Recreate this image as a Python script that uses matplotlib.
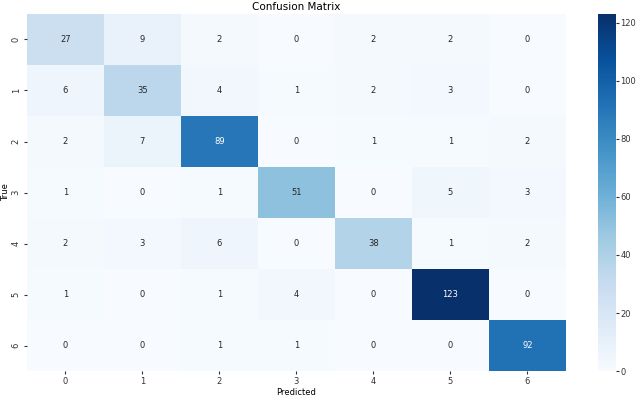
import matplotlib
import matplotlib.pyplot as plt
import numpy as np
import seaborn as sns

matplotlib.use("Agg")

labels = ["0", "1", "2", "3", "4", "5", "6"]
row_0 = [27, 9, 2, 0, 2, 2, 0]
row_1 = [6, 35, 4, 1, 2, 3, 0]
row_2 = [2, 7, 89, 0, 1, 1, 2]
row_3 = [1, 0, 1, 51, 0, 5, 3]
row_4 = [2, 3, 6, 0, 38, 1, 2]
row_5 = [1, 0, 1, 4, 0, 123, 0]
row_6 = [0, 0, 1, 1, 0, 0, 92]

cm = np.array([row_0, row_1, row_2, row_3, row_4, row_5, row_6])

fig = plt.figure(figsize=(6.4, 3.97), dpi=100)
ax = fig.add_axes([0.042, 0.065, 0.842, 0.9])
cax = fig.add_axes([0.934, 0.065, 0.028, 0.9])

sns.heatmap(cm, annot=True, fmt="d", cmap="Blues", ax=ax, cbar_ax=cax,
            xticklabels=labels, yticklabels=labels,
            annot_kws={"fontsize": 6})
ax.set_title("Confusion Matrix", fontsize=7.5, pad=3)
ax.set_xlabel("Predicted", fontsize=6, labelpad=1)
ax.set_ylabel("True", fontsize=6, labelpad=1)
ax.tick_params(labelsize=6, length=2.5, pad=2, colors="#333333")
cax.tick_params(labelsize=6, length=2, pad=1.5, colors="#333333")
cax.set_yticks([0, 20, 40, 60, 80, 100, 120])
for spine in cax.spines.values():
    spine.set_visible(False)

fig.savefig("out.png", dpi=100)
plt.close(fig)
